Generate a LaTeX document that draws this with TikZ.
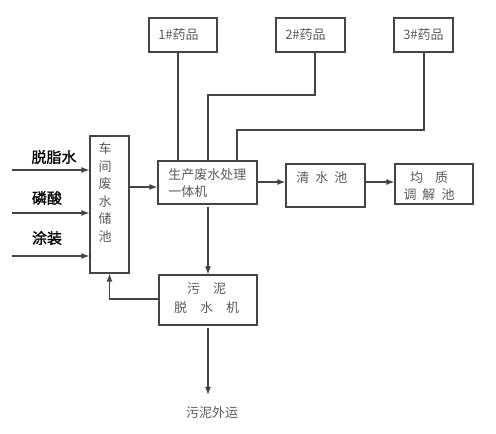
\documentclass[tikz,border=0pt]{standalone}
\usepackage{fontspec}
\newfontfamily\cjk{Noto Sans CJK SC}
\newfontfamily\cjkb[FakeBold=1.2]{Noto Sans CJK SC}
\usetikzlibrary{fit,arrows.meta,calc}
\definecolor{ln}{HTML}{444444}
\definecolor{tx}{HTML}{5A5A5A}
\newcommand{\gp}[1]{\hspace*{#1\dimexpr0.75pt\relax}}
\begin{document}
\begin{tikzpicture}[x=0.75pt,y=-0.75pt,
  box/.style={draw=ln,line width=0.9pt,inner sep=0pt},
  txt/.style={text=tx,font=\cjk\fontsize{9.75pt}{12pt}\selectfont,inner sep=0pt},
  lbl/.style={text=black,font=\cjkb\fontsize{11.25pt}{13pt}\selectfont,inner sep=0pt},
  ln/.style={draw=ln,line width=0.9pt},
  arr/.style={ln,-{Latex[length=6pt,width=4.5pt]}}]
\useasboundingbox (0,0) rectangle (496,434);
% boxes
\node[box,fit={(149,18) (217,52)}] (m1) {};
\node[box,fit={(276,18) (345,52)}] (m2) {};
\node[box,fit={(394,18) (453,52)}] (m3) {};
\node[box,fit={(90,136) (129,273)}] (ws) {};
\node[box,fit={(158,161) (257,204)}] (proc) {};
\node[box,fit={(286,164) (365,207)}] (clr) {};
\node[box,fit={(395,164) (473,204)}] (eq) {};
\node[box,fit={(159,275) (257,325)}] (sl) {};
% texts
\node[txt,anchor=west] (t1) at (158,35) {1\#药品};
\node[txt,anchor=west] (t2) at (285,35) {2\#药品};
\node[txt,anchor=west] (t3) at (403,35) {3\#药品};
\node[txt,align=center,font=\cjk\fontsize{9.75pt}{13.1pt}\selectfont] (tws) at (105,192.5) {车\\间\\废\\水\\储\\池};
\node[txt,anchor=north west,align=left,font=\cjk\fontsize{9.75pt}{13pt}\selectfont] (tproc) at (168,168) {生产废水处理\\一体机};
\node[txt,anchor=west] (tclr) at (296,178) {清\gp{6}水\gp{6}池};
\node[txt] (teq1) at (429,178) {均\gp{12}质};
\node[txt] (teq2) at (429,195) {调\gp{6}解\gp{6}池};
\node[txt] (tsl1) at (206.5,289) {污\gp{13}泥};
\node[txt] (tsl2) at (206.5,308) {脱\gp{13}水\gp{13}机};
\node[txt] (tout) at (212,413) {污泥外运};
\node[lbl] (l1) at (54,157) {脱脂水};
\node[lbl] (l2) at (47,198) {磷酸};
\node[lbl] (l3) at (47,238) {涂装};
% coordinates
\coordinate (a1) at (178,0);
\coordinate (k2) at (315,95);
\coordinate (k2b) at (208,95);
\coordinate (k3) at (424,130);
\coordinate (k3b) at (237,130);
\coordinate (in1) at (12,170);
\coordinate (in2) at (12,213);
\coordinate (in3) at (12,256);
\coordinate (c1) at (0,187);
\coordinate (c2) at (0,182);
\coordinate (c3) at (0,299);
\coordinate (s1) at (208,207);
\coordinate (s2) at (208,328);
\coordinate (s3) at (208,395);
% connectors
\draw[ln] (m1.south -| a1) -- (a1 |- proc.north);
\draw[ln] (m2.south -| k2) -- (k2) -- (k2b) -- (k2b |- proc.north);
\draw[ln] (m3.south -| k3) -- (k3) -- (k3b) -- (k3b |- proc.north);
\draw[arr] (in1) -- (in1 -| ws.west);
\draw[arr] (in2) -- (in2 -| ws.west);
\draw[arr] (in3) -- (in3 -| ws.west);
\draw[arr] (ws.east |- c1) -- (proc.west |- c1);
\draw[arr] (proc.east |- c2) -- (clr.west |- c2);
\draw[arr] (clr.east |- c2) -- (eq.west |- c2);
\draw[arr] (s1) -- (s1 |- sl.north);
\draw[arr] (sl.west |- c3) -| (ws.south);
\draw[arr] (s2) -- (s3);
\end{tikzpicture}
\end{document}
